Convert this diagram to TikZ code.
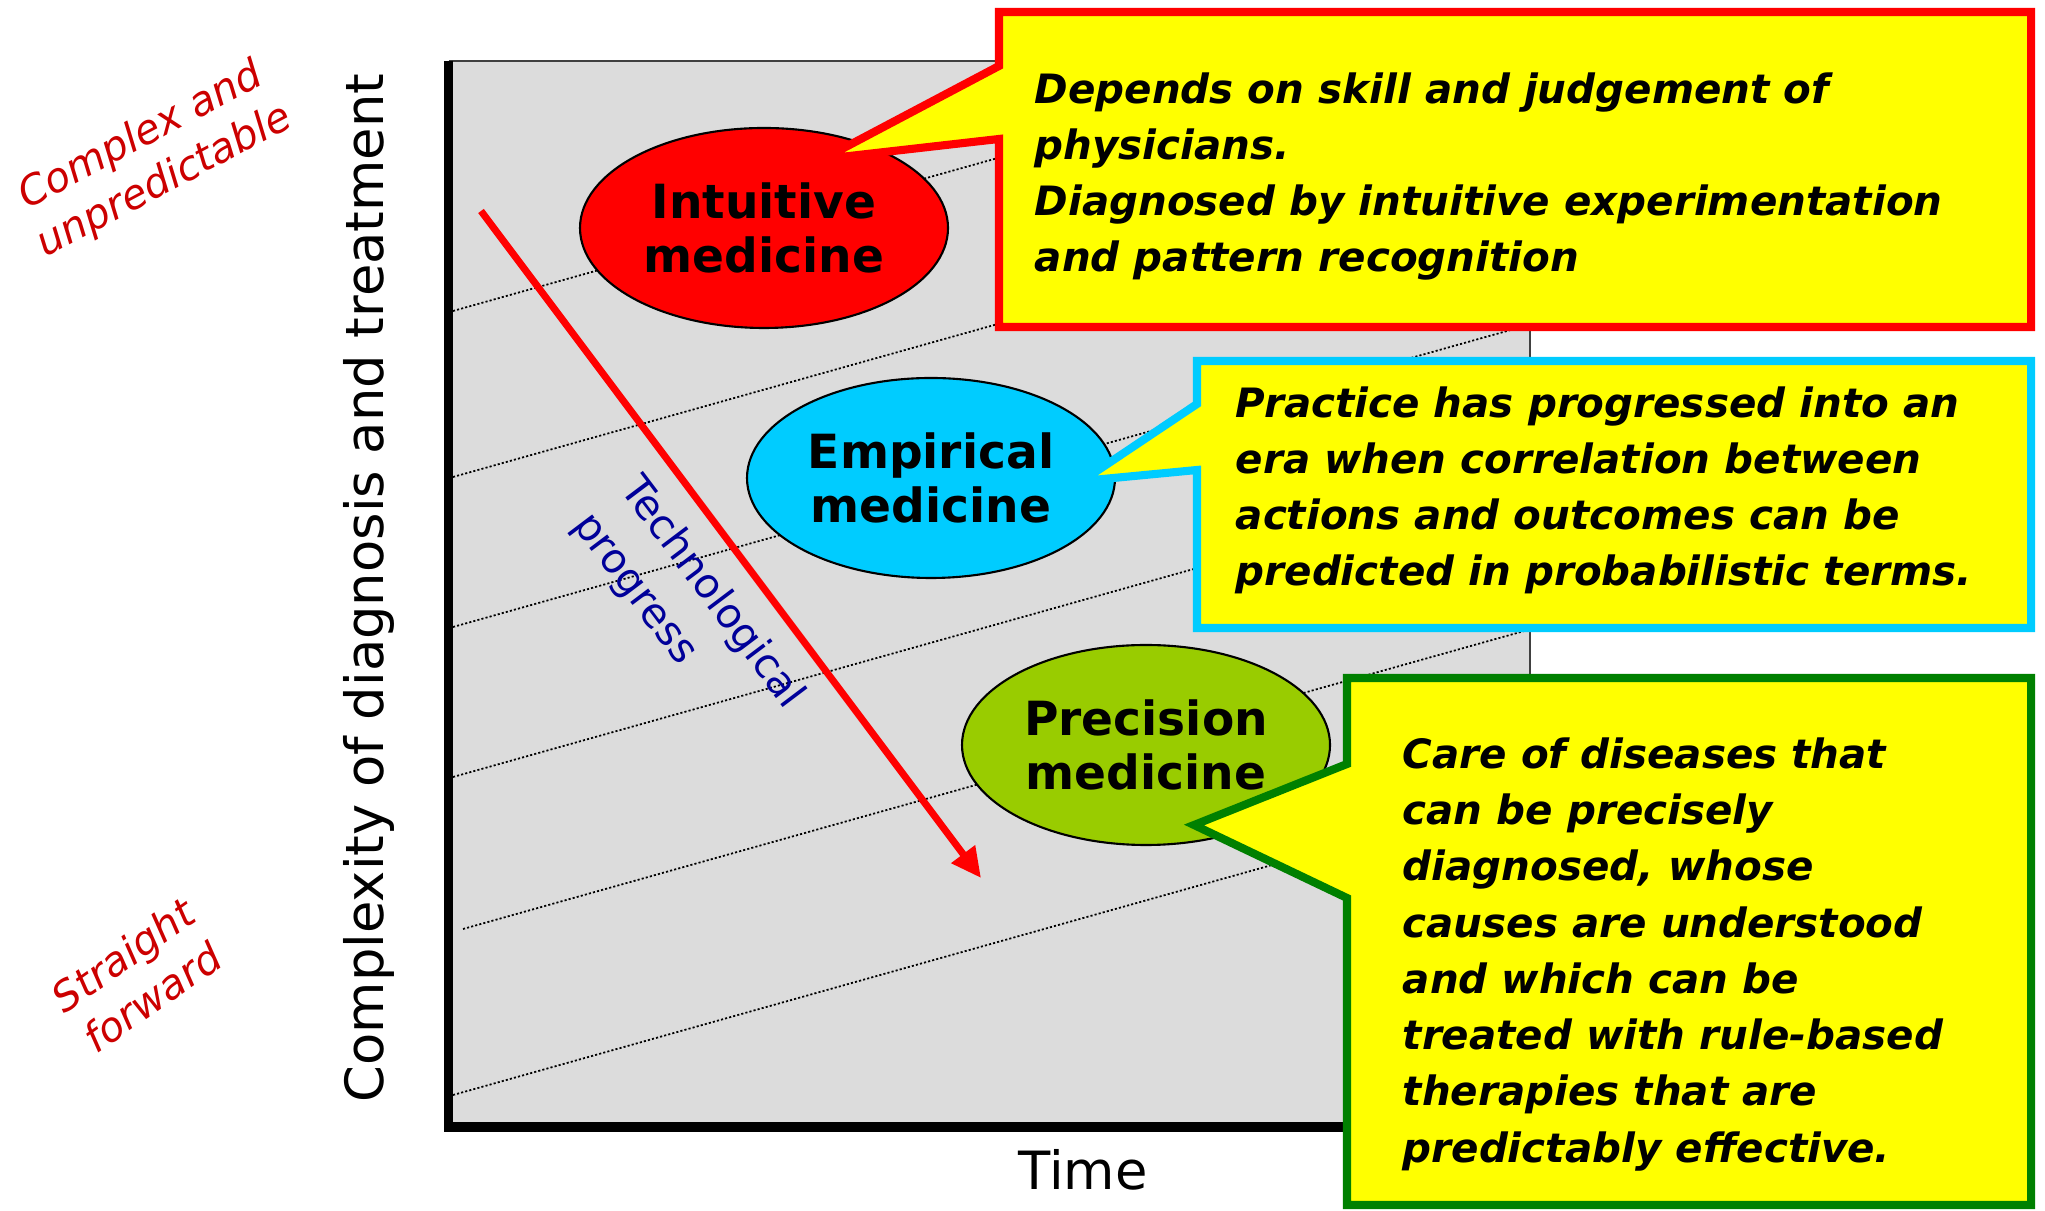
\documentclass[tikz,border=0pt]{standalone}
\usepackage{fontspec}
\setmainfont{DejaVu Sans}[BoldFont={DejaVu Sans Bold},ItalicFont={DejaVu Sans Oblique},BoldItalicFont={DejaVu Sans Bold Oblique}]
\usetikzlibrary{shapes.geometric,arrows.meta}
\definecolor{plotgray}{RGB}{220,220,220}
\definecolor{labelred}{RGB}{204,0,0}
\definecolor{navyblue}{RGB}{0,0,153}
\definecolor{skyblue}{RGB}{0,204,255}
\definecolor{leafgreen}{RGB}{153,204,0}
\definecolor{boxgreen}{RGB}{0,128,0}
\definecolor{noteyellow}{RGB}{255,255,0}
\definecolor{purered}{RGB}{255,0,0}

\begin{document}
\begin{tikzpicture}[callout/.style={fill=noteyellow,line width=2.3pt,line join=miter},
                    note/.style={anchor=base west,align=left,inner sep=0pt,font=\fontsize{11.5}{16}\selectfont\bfseries\itshape}]
  \useasboundingbox (0,0) rectangle (20.45,12.10);

  \fill[plotgray] (4.485,0.83) rectangle (15.30,11.49);
  \begin{scope}
    \clip (4.53,0.88) rectangle (15.30,11.49);
    \foreach \x/\y in {4.53/8.99,4.53/7.33,4.53/5.83,4.53/4.33,4.63/2.81,4.53/1.15}
      \draw[line width=0.5pt,dash pattern=on 0.6pt off 0.6pt] (\x,\y) -- ++(12,3.37);
  \end{scope}
  \draw[black!75,line width=0.6pt] (4.485,11.49) -- (15.30,11.49) -- (15.30,0.83);
  \draw[line width=2.6pt] (4.485,11.49) -- (4.485,0.83) -- (15.30,0.83);

  \node[rotate=90,anchor=base,font=\fontsize{15}{18}\selectfont] (yaxis) at (3.83,6.22) {Complexity of diagnosis and treatment};
  \node[anchor=base,font=\fontsize{15}{18}\selectfont] (xaxis) at (10.83,0.21) {Time};

  \begin{scope}[every node/.style={align=center,text=labelred,font=\fontsize{11.6}{14.6}\selectfont\itshape}]
    \node[rotate=28] (complex) at (1.53,10.51) {Complex and\\unpredictable};
    \node[rotate=35] (simple) at (1.375,2.34) {Straight\\forward};
  \end{scope}

  \coordinate (from) at (4.81,9.99);
  \coordinate (to) at (9.81,3.32);
  \draw[purered,line width=2pt,-{Triangle[length=8.5pt,width=8pt]}] (from) -- (to);
  \node[rotate=-53,align=left,text=navyblue,font=\fontsize{11.7}{16.8}\selectfont] (progress) at (6.88,5.99) {Technological\\progress};

  \begin{scope}[every node/.style={ellipse,draw,line width=0.6pt,minimum width=3.68cm,minimum height=2cm,inner sep=0pt,align=center,font=\fontsize{13.4}{15.6}\selectfont\bfseries}]
    \node[fill=purered] (intuitive) at (7.64,9.82) {Intuitive\\medicine};
    \node[fill=skyblue] (empirical) at (9.31,7.32) {Empirical\\medicine};
    \node[fill=leafgreen] (precision) at (11.46,4.65) {Precision\\medicine};
  \end{scope}

  \coordinate (tip1) at (8.23,10.51);
  \coordinate (tip2) at (10.82,7.29);
  \coordinate (tip3) at (11.94,3.85);
  \draw[callout,draw=purered] (9.99,11.98) -- (20.31,11.98) -- (20.31,8.83) -- (9.99,8.83) -- (9.99,10.71) -- (tip1) -- (9.99,11.44) -- cycle;
  \draw[callout,draw=skyblue] (11.97,8.49) -- (20.31,8.49) -- (20.31,5.82) -- (11.97,5.82) -- (11.97,7.40) -- (tip2) -- (11.97,8.06) -- cycle;
  \draw[callout,draw=boxgreen] (13.47,5.32) -- (20.31,5.32) -- (20.31,0.05) -- (13.47,0.05) -- (13.47,3.12) -- (tip3) -- (13.47,4.46) -- cycle;

  \node[note] (skill) at (10.34,9.38) {Depends on skill and judgement of\\physicians.\\Diagnosed by intuitive experimentation\\and pattern recognition};
  \node[note] (practice) at (12.35,6.24) {Practice has progressed into an\\era when correlation between\\actions and outcomes can be\\predicted in probabilistic terms.};
  \node[note] (care) at (14.02,0.48) {Care of diseases that\\can be precisely\\diagnosed, whose\\causes are understood\\and which can be\\treated with rule-based\\therapies that are\\predictably effective.};

\end{tikzpicture}
\end{document}
